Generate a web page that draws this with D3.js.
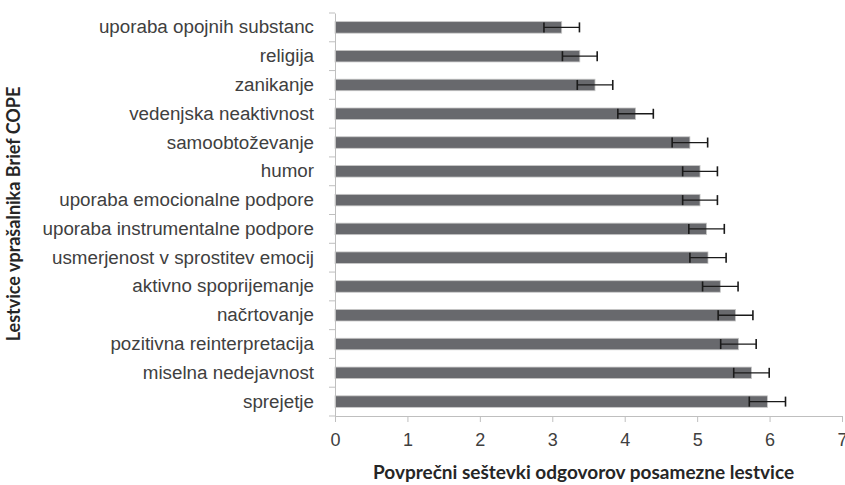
<!DOCTYPE html>
<html>
<head>
<meta charset="utf-8">
<script src="https://cdn.jsdelivr.net/npm/d3@7"></script>
<style>
  body { margin: 0; background: #fff; }
  svg { display: block; font-family: Lato, 'Open Sans', sans-serif; }
</style>
</head>
<body>
<svg id="chart"></svg>
<script>
const categories = [
  'uporaba opojnih substanc', 'religija', 'zanikanje', 'vedenjska neaktivnost',
  'samoobtoževanje', 'humor', 'uporaba emocionalne podpore',
  'uporaba instrumentalne podpore', 'usmerjenost v sprostitev emocij',
  'aktivno spoprijemanje', 'načrtovanje', 'pozitivna reinterpretacija',
  'miselna nedejavnost', 'sprejetje'
]
const means = [3.13, 3.38, 3.59, 4.15, 4.90, 5.04, 5.04, 5.13, 5.15, 5.32, 5.53, 5.57, 5.75, 5.97]
const errors = [0.245, 0.24, 0.245, 0.245, 0.245, 0.24, 0.24, 0.245, 0.25, 0.245, 0.24, 0.245, 0.245, 0.25]
const xTicks = [0, 1, 2, 3, 4, 5, 6, 7]

const [sizeX, sizeY] = [845, 485]
const svg = d3.select('svg#chart').attr('width', sizeX).attr('height', sizeY)

const plotLeft = 335, plotRight = 842, plotTop = 13, plotBottom = 416
const axisColor = '#bfbfbf'

const x = d3.scaleLinear().domain([0, 7]).range([plotLeft, plotRight])
const y = d3.scaleBand().domain(categories).range([plotTop, plotBottom]).paddingInner(0.6).paddingOuter(0.3)
const yBoundary = d3.scaleLinear().domain([0, categories.length]).range([plotTop, plotBottom])

// bars
svg.append('g').selectAll('rect')
  .data(categories)
  .enter()
  .append('rect')
  .attr('x', x(0))
  .attr('y', c => y(c))
  .attr('height', y.bandwidth())
  .attr('width', (c, i) => x(means[i]) - x(0))
  .attr('fill', '#68696d')
  .attr('stroke', '#c8c8c8')
  .attr('stroke-width', 0.8)

// error bars
const err = svg.append('g').selectAll('g')
  .data(categories)
  .enter()
  .append('g')
  .attr('transform', c => `translate(0, ${y(c) + y.bandwidth() / 2})`)
err.append('line')
  .attr('x1', (c, i) => x(means[i] - errors[i]))
  .attr('x2', (c, i) => x(means[i] + errors[i]))
  .attr('stroke', '#1a1a1a').attr('stroke-width', 1.3)
err.selectAll('.cap')
  .data((c, i) => [means[i] - errors[i], means[i] + errors[i]])
  .enter()
  .append('line')
  .attr('x1', v => x(v)).attr('x2', v => x(v))
  .attr('y1', -5).attr('y2', 5)
  .attr('stroke', '#1a1a1a').attr('stroke-width', 1.6)

// x axis
const xAxis = svg.append('g')
  .attr('transform', `translate(0, ${plotBottom})`)
  .call(d3.axisBottom(x).tickValues(xTicks).tickSize(6).tickPadding(11).tickFormat(d3.format('d')))
xAxis.select('.domain').attr('stroke', axisColor)
xAxis.selectAll('.tick line').attr('stroke', axisColor)
xAxis.selectAll('.tick text').attr('fill', '#404040').style('font-size', '18px')

// y axis
const yAxis = svg.append('g')
  .attr('transform', `translate(${plotLeft}, 0)`)
  .call(d3.axisLeft(y).tickSize(0).tickPadding(21))
yAxis.select('.domain').attr('stroke', axisColor)
yAxis.selectAll('.tick text').attr('fill', '#404040').style('font-size', '18.8px')
svg.append('g').selectAll('line')
  .data(d3.range(categories.length + 1))
  .enter()
  .append('line')
  .attr('x1', plotLeft - 6).attr('x2', plotLeft)
  .attr('y1', i => yBoundary(i)).attr('y2', i => yBoundary(i))
  .attr('stroke', axisColor)

// titles
svg.append('text')
  .attr('x', (plotLeft + plotRight) / 2 - 5)
  .attr('y', 479)
  .attr('text-anchor', 'middle')
  .attr('fill', '#262626')
  .style('font-weight', 'bold')
  .style('font-size', '19px')
  .text('Povprečni seštevki odgovorov posamezne lestvice')

svg.append('text')
  .attr('transform', `translate(20, 214) rotate(-90)`)
  .attr('text-anchor', 'middle')
  .attr('fill', '#262626')
  .style('font-weight', 'bold')
  .style('font-size', '18px')
  .text('Lestvice vprašalnika Brief COPE')
</script>
</body>
</html>
